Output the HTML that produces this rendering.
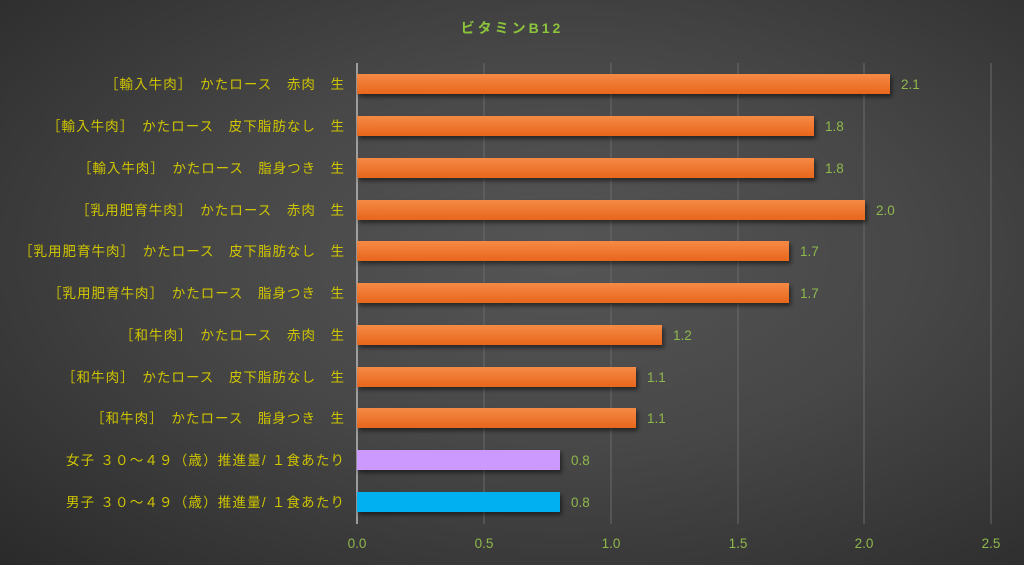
<!DOCTYPE html>
<html><head><meta charset="utf-8"><style>
html,body{margin:0;padding:0;}
body{width:1024px;height:565px;overflow:hidden;background:radial-gradient(ellipse at 55% 45%,#555 0%,#474747 45%,#2a2a2a 100%);}
svg{display:block;font-family:"Liberation Sans","Noto Sans CJK JP",sans-serif;}
</style></head><body>
<svg width="1024" height="565" xmlns="http://www.w3.org/2000/svg">
<defs>
<linearGradient id="og" x1="0" y1="0" x2="0" y2="1"><stop offset="0" stop-color="#f58a45"/><stop offset="1" stop-color="#e8661c"/></linearGradient>
<filter id="sh" x="-5%" y="-30%" width="110%" height="180%"><feDropShadow dx="2" dy="3" stdDeviation="2" flood-color="#000" flood-opacity="0.5"/></filter>
</defs>
<text x="512" y="33" text-anchor="middle" fill="#8cc43c" font-size="14" font-weight="bold" letter-spacing="3">ビタミンB12</text>
<g stroke="#6a6a6a" stroke-width="1">
<line x1="484" y1="63" x2="484" y2="524"/><line x1="611" y1="63" x2="611" y2="524"/>
<line x1="738" y1="63" x2="738" y2="524"/><line x1="864" y1="63" x2="864" y2="524"/><line x1="991" y1="63" x2="991" y2="524"/>
</g>
<line x1="357" y1="63" x2="357" y2="524" stroke="#bbb" stroke-width="1.5"/>
<g filter="url(#sh)">
<rect x="357" y="74" width="533" height="20" fill="url(#og)"/>
<rect x="357" y="116" width="457" height="20" fill="url(#og)"/>
<rect x="357" y="158" width="457" height="20" fill="url(#og)"/>
<rect x="357" y="200" width="508" height="20" fill="url(#og)"/>
<rect x="357" y="241" width="432" height="20" fill="url(#og)"/>
<rect x="357" y="283" width="432" height="20" fill="url(#og)"/>
<rect x="357" y="325" width="305" height="20" fill="url(#og)"/>
<rect x="357" y="367" width="279" height="20" fill="url(#og)"/>
<rect x="357" y="408" width="279" height="20" fill="url(#og)"/>
<rect x="357" y="450" width="203" height="20" fill="#cc99ff"/>
<rect x="357" y="492" width="203" height="20" fill="#00b0f0"/>
</g>
<g fill="#8fb84c" font-size="13.5">
<text x="901" y="89">2.1</text><text x="825" y="131">1.8</text><text x="825" y="173">1.8</text>
<text x="876" y="215">2.0</text><text x="800" y="256">1.7</text><text x="800" y="298">1.7</text>
<text x="673" y="340">1.2</text><text x="647" y="382">1.1</text><text x="647" y="423">1.1</text>
<text x="571" y="465">0.8</text><text x="571" y="507">0.8</text>
</g>
<g fill="#8fb84c" font-size="13.5" text-anchor="middle">
<text x="357" y="548">0.0</text><text x="484" y="548">0.5</text><text x="611" y="548">1.0</text>
<text x="738" y="548">1.5</text><text x="864" y="548">2.0</text><text x="991" y="548">2.5</text>
</g>
<g fill="#cfc400" font-size="13.5" lengthAdjust="spacing">
<text x="105" y="89" textLength="239">［輸入牛肉］　かたロース　赤肉　生</text>
<text x="47" y="131" textLength="297">［輸入牛肉］　かたロース　皮下脂肪なし　生</text>
<text x="78" y="173" textLength="266">［輸入牛肉］　かたロース　脂身つき　生</text>
<text x="76" y="215" textLength="268">［乳用肥育牛肉］　かたロース　赤肉　生</text>
<text x="19" y="256" textLength="325">［乳用肥育牛肉］　かたロース　皮下脂肪なし　生</text>
<text x="48" y="298" textLength="296">［乳用肥育牛肉］　かたロース　脂身つき　生</text>
<text x="120" y="340" textLength="224">［和牛肉］　かたロース　赤肉　生</text>
<text x="62" y="382" textLength="282">［和牛肉］　かたロース　皮下脂肪なし　生</text>
<text x="91" y="423" textLength="253">［和牛肉］　かたロース　脂身つき　生</text>
<text x="66" y="465" textLength="278">女子 ３０～４９（歳）推進量/ １食あたり</text>
<text x="66" y="507" textLength="278">男子 ３０～４９（歳）推進量/ １食あたり</text>
</g>
</svg>
</body></html>
